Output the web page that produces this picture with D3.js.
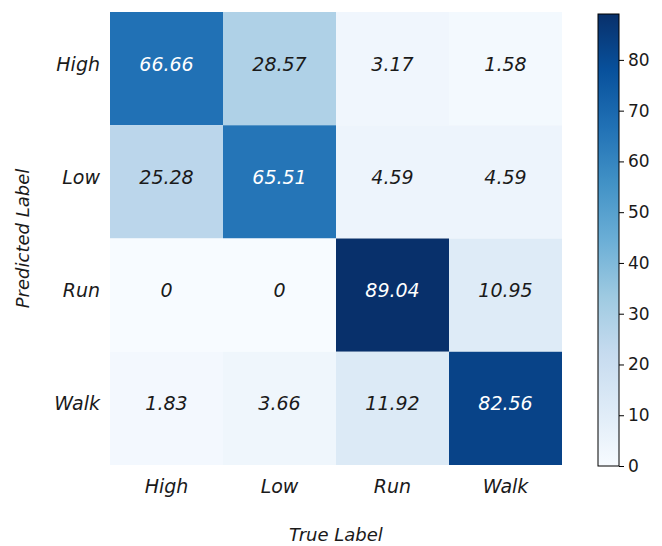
<!DOCTYPE html>
<html><head><meta charset="utf-8">
<script src="https://cdn.jsdelivr.net/npm/d3@7"></script>
<style>body{margin:0;background:#fff}</style>
</head><body>
<svg id="c" width="662" height="546"></svg>
<script>
const trueLabels = ["High","Low","Run","Walk"];
const predLabels = ["High","Low","Run","Walk"];
const values = [
  [66.66, 28.57, 3.17, 1.58],
  [25.28, 65.51, 4.59, 4.59],
  [0, 0, 89.04, 10.95],
  [1.83, 3.66, 11.92, 82.56]
];
const cbTicks = [0,10,20,30,40,50,60,70,80];

const svg = d3.select("#c");
const font = "DejaVu Sans, sans-serif";
const L = 110, R = 562, T = 12, B = 465;
const vmax = d3.max(values.flat());
const blues = ["#f7fbff","#deebf7","#c6dbef","#9ecae1","#6baed6","#4292c6","#2171b5","#08519c","#08306b"];
const color = d3.scaleLinear().domain(blues.map((_, i) => i / 8 * vmax)).range(blues).clamp(true);

const x = d3.scaleBand().domain(trueLabels).range([L, R]);
const y = d3.scaleBand().domain(predLabels).range([T, B]);

const cells = [];
values.forEach((row, i) => row.forEach((v, j) => cells.push({r: predLabels[i], c: trueLabels[j], v})));

svg.selectAll("rect.cell").data(cells).enter().append("rect")
  .attr("x", d => x(d.c)).attr("y", d => y(d.r))
  .attr("width", x.bandwidth()).attr("height", y.bandwidth())
  .attr("fill", d => color(d.v));

svg.selectAll("text.val").data(cells).enter().append("text")
  .attr("x", d => x(d.c) + x.bandwidth() / 2)
  .attr("y", d => y(d.r) + y.bandwidth() / 2 - 5)
  .attr("text-anchor", "middle").attr("dominant-baseline", "central")
  .attr("font-family", font).attr("font-style", "italic").attr("font-size", 19)
  .attr("fill", d => d.v > vmax / 2 ? "#fff" : "#1a1a1a")
  .text(d => d.v);

// x tick labels
svg.selectAll("text.xt").data(trueLabels).enter().append("text")
  .attr("x", d => x(d) + x.bandwidth() / 2).attr("y", 486)
  .attr("text-anchor", "middle").attr("dominant-baseline", "central")
  .attr("font-family", font).attr("font-style", "italic").attr("font-size", 19)
  .attr("fill", "#1a1a1a").text(d => d);

// y tick labels
svg.selectAll("text.yt").data(predLabels).enter().append("text")
  .attr("x", 100).attr("y", d => y(d) + y.bandwidth() / 2 - 5)
  .attr("text-anchor", "end").attr("dominant-baseline", "central")
  .attr("font-family", font).attr("font-style", "italic").attr("font-size", 19)
  .attr("fill", "#1a1a1a").text(d => d);

svg.append("text").attr("x", (L + R) / 2).attr("y", 534)
  .attr("text-anchor", "middle").attr("dominant-baseline", "central")
  .attr("font-family", font).attr("font-style", "italic").attr("font-size", 18)
  .attr("fill", "#1a1a1a").text("True Label");

svg.append("text").attr("transform", `translate(22,${(T + B) / 2}) rotate(-90)`)
  .attr("text-anchor", "middle").attr("dominant-baseline", "central")
  .attr("font-family", font).attr("font-style", "italic").attr("font-size", 18)
  .attr("fill", "#1a1a1a").text("Predicted Label");

// colorbar
const cbX = 598, cbW = 21, cbTop = 14, cbBot = 466;
const cy = d3.scaleLinear().domain([0, vmax]).range([cbBot, cbTop]);
const defs = svg.append("defs");
const grad = defs.append("linearGradient").attr("id", "g").attr("x1", 0).attr("y1", 1).attr("x2", 0).attr("y2", 0);
blues.forEach((c, i) => grad.append("stop").attr("offset", i / 8).attr("stop-color", c));
svg.append("rect").attr("x", cbX).attr("y", cbTop).attr("width", cbW).attr("height", cbBot - cbTop)
  .attr("fill", "url(#g)").attr("stroke", "#000").attr("stroke-width", 1);

const ax = svg.append("g").attr("transform", `translate(${cbX + cbW},0)`)
  .call(d3.axisRight(cy).tickValues(cbTicks).tickSize(5).tickPadding(4));
ax.select(".domain").remove();
ax.selectAll("line").attr("stroke", "#000");
ax.selectAll("text").attr("font-family", font).attr("font-size", 17).attr("fill", "#1a1a1a");
</script>
</body></html>
